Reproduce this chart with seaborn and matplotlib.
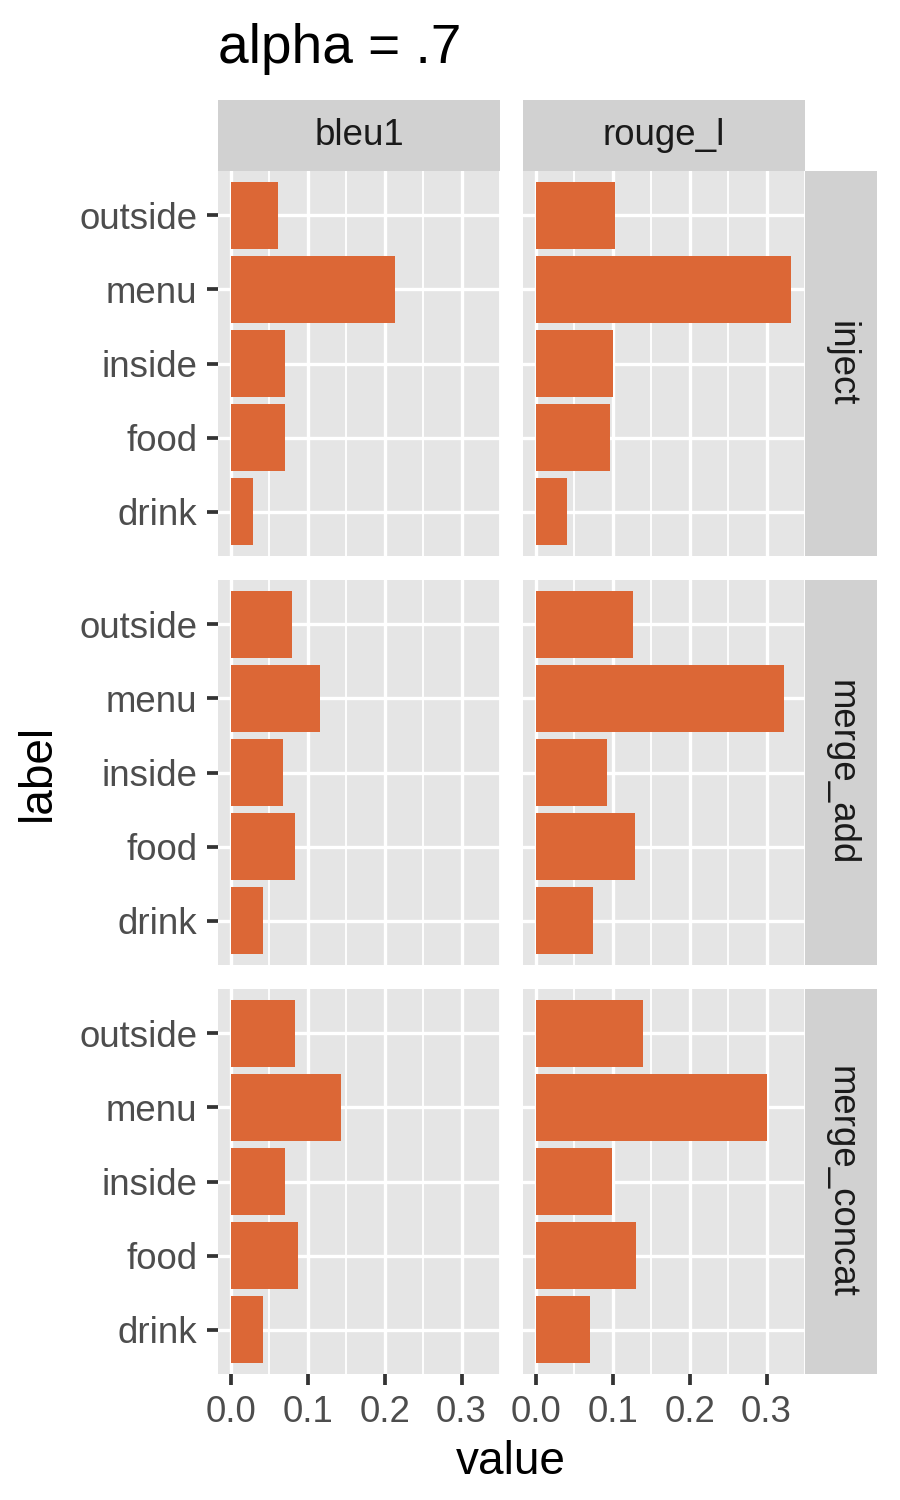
import numpy as np
import pandas as pd
import matplotlib
matplotlib.use("Agg")
import matplotlib.pyplot as plt
import seaborn as sns

labels = ["outside", "menu", "inside", "food", "drink"]
metrics = ["bleu1", "rouge_l"]
methods = ["inject", "merge_add", "merge_concat"]

# values, in label order
inject_bleu1 = [0.062, 0.214, 0.071, 0.070, 0.029]
inject_rouge_l = [0.103, 0.332, 0.101, 0.096, 0.040]
merge_add_bleu1 = [0.079, 0.116, 0.068, 0.083, 0.042]
merge_add_rouge_l = [0.127, 0.323, 0.092, 0.129, 0.074]
merge_concat_bleu1 = [0.083, 0.143, 0.070, 0.088, 0.042]
merge_concat_rouge_l = [0.139, 0.300, 0.099, 0.130, 0.071]

series = {
    ("inject", "bleu1"): inject_bleu1,
    ("inject", "rouge_l"): inject_rouge_l,
    ("merge_add", "bleu1"): merge_add_bleu1,
    ("merge_add", "rouge_l"): merge_add_rouge_l,
    ("merge_concat", "bleu1"): merge_concat_bleu1,
    ("merge_concat", "rouge_l"): merge_concat_rouge_l,
}
rows = []
for (meth, met), vals in series.items():
    for lab, v in zip(labels, vals):
        rows.append({"method": meth, "metric": met, "label": lab, "value": v})
df = pd.DataFrame(rows)

sns.set_style("white")
plt.rcParams["font.family"] = ["Liberation Sans", "DejaVu Sans"]

W, H = 900, 1500
fig = plt.figure(figsize=(3, 5), dpi=300)

def box(x0, x1, y0, y1):
    # pixel box (top-down y) -> figure fraction rect
    return [x0 / W, 1 - y1 / H, (x1 - x0) / W, (y1 - y0) / H]

col_px = [(218, 500), (523, 805)]
row_px = [(171, 556), (580, 965), (989, 1374)]

BAR = "#DC6736"
PANEL = "#E5E5E5"
STRIP = "#D1D1D1"
vmax = df["value"].max()
xlim = (-0.05 * vmax, 1.05 * vmax)

for i, meth in enumerate(methods):
    for j, met in enumerate(metrics):
        ax = fig.add_axes(box(*col_px[j], *row_px[i]))
        sub = df[(df["method"] == meth) & (df["metric"] == met)]
        sns.barplot(data=sub, x="value", y="label", order=labels, color=BAR,
                    saturation=1, width=0.9, ax=ax, errorbar=None, zorder=3,
                    linewidth=0, edgecolor="none")
        ax.set_facecolor(PANEL)
        ax.set_xlim(*xlim)
        ax.set_ylim(4.6, -0.6)
        ax.set_xticks([0, 0.1, 0.2, 0.3])
        ax.set_xticks([0.05, 0.15, 0.25, 0.35], minor=True)
        ax.set_yticks(range(len(labels)))
        ax.grid(which="major", color="white", linewidth=0.8, zorder=1)
        ax.grid(which="minor", axis="x", color="white", linewidth=0.45, zorder=1)
        ax.set_axisbelow(True)
        for s in ax.spines.values():
            s.set_visible(False)
        ax.set_xlabel("")
        ax.set_ylabel("")
        ax.tick_params(which="minor", length=0)
        ax.tick_params(which="major", bottom=True, left=True, length=2.75,
                       width=0.9, color="#333333", labelsize=8.8,
                       labelcolor="#4D4D4D", pad=2.2)
        if j == 0:
            ax.set_yticklabels(labels)
        else:
            ax.tick_params(axis="y", length=0, labelleft=False)
        if i == len(methods) - 1:
            ax.set_xticklabels(["0.0", "0.1", "0.2", "0.3"])
        else:
            ax.tick_params(axis="x", length=0, labelbottom=False)

        if i == 0:
            sax = fig.add_axes(box(*col_px[j], 100, 171))
            sax.set_facecolor(STRIP)
            sax.set_xticks([]); sax.set_yticks([])
            for s in sax.spines.values():
                s.set_visible(False)
            sax.text(0.5, 0.5, met, ha="center", va="center", fontsize=8.8,
                     color="#1A1A1A", transform=sax.transAxes)
    rax = fig.add_axes(box(805, 877, *row_px[i]))
    rax.set_facecolor(STRIP)
    rax.set_xticks([]); rax.set_yticks([])
    for s in rax.spines.values():
        s.set_visible(False)
    rax.text(0.5, 0.5, meth, ha="center", va="center", fontsize=8.8,
             color="#1A1A1A", rotation=-90, transform=rax.transAxes)

fig.text(218 / W, 1 - 63 / H, "alpha = .7", ha="left", va="baseline",
         fontsize=13.2, color="black")
fig.text(38 / W, 1 - 772 / H, "label", ha="center", va="center",
         rotation=90, fontsize=11, color="black")
fig.text(511 / W, 1 - 1462 / H, "value", ha="center", va="center",
         fontsize=11, color="black")

fig.savefig("out.png", dpi=300, facecolor="white")
